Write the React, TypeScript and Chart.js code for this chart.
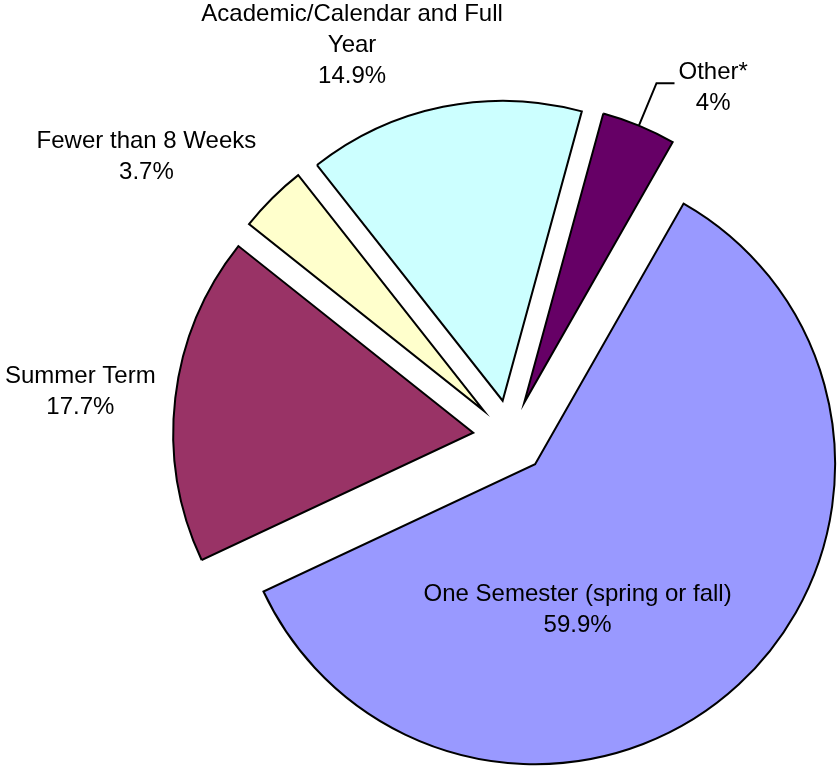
import React, { useEffect, useRef } from "react";
import { Chart, registerables } from "chart.js";

Chart.register(...registerables);

// ---- data ----
const categories = [
  "Other*",
  "One Semester (spring or fall)",
  "Summer Term",
  "Fewer than 8 Weeks",
  "Academic/Calendar and Full Year",
];
const labelLines = [
  ["Other*"],
  ["One Semester (spring or fall)"],
  ["Summer Term"],
  ["Fewer than 8 Weeks"],
  ["Academic/Calendar and Full", "Year"],
];
const values = [4, 59.9, 17.7, 3.7, 14.9];
const valueLabels = ["4%", "59.9%", "17.7%", "3.7%", "14.9%"];
const colors = ["#660066", "#9999FF", "#993366", "#FFFFCC", "#CCFFFF"];

// ---- label placement (polar, relative to each slice) ----
const labelAngleShift = [7.7, 21.4, -0.7, -7.5, -10.5];
const labelDistance = [1.347, 0.62, 1.44, 1.53, 1.407];
const hasLeader = [true, false, false, false, false];

const EXPLODE = 37;
const RADIUS = 300;
const FONT = "24px 'Liberation Sans', Arial, sans-serif";
const LINE_H = 31;

const explodePlugin = {
  id: "explode",
  beforeDatasetDraw(chart: any, args: any) {
    const ctx = chart.ctx;
    args.meta.data.forEach((arc: any) => {
      const mid = (arc.startAngle + arc.endAngle) / 2;
      ctx.save();
      ctx.translate(Math.cos(mid) * EXPLODE, Math.sin(mid) * EXPLODE);
      arc.draw(ctx);
      ctx.restore();
    });
    return false;
  },
};

const labelPlugin = {
  id: "sliceLabels",
  afterDatasetsDraw(chart: any) {
    const ctx = chart.ctx;
    const meta = chart.getDatasetMeta(0);
    ctx.save();
    ctx.font = FONT;
    ctx.fillStyle = "#000";
    ctx.textAlign = "center";
    ctx.textBaseline = "middle";
    meta.data.forEach((arc: any, i: number) => {
      const { x, y, startAngle, endAngle, outerRadius } = arc;
      const mid = (startAngle + endAngle) / 2;
      const a = mid + (labelAngleShift[i] * Math.PI) / 180;
      const d = labelDistance[i] * outerRadius;
      const cx = x + Math.cos(a) * d;
      const cy = y + Math.sin(a) * d;
      const lines = [...labelLines[i], valueLabels[i]];
      const top = cy - ((lines.length - 1) * LINE_H) / 2;
      lines.forEach((t, k) => ctx.fillText(t, cx, top + k * LINE_H));
      if (hasLeader[i]) {
        const w = Math.max(...lines.map((t) => ctx.measureText(t).width));
        const sx = x + Math.cos(mid) * (outerRadius + EXPLODE);
        const sy = y + Math.sin(mid) * (outerRadius + EXPLODE);
        const ex = cx - w / 2 - 4;
        const ey = top + 11;
        ctx.save();
        ctx.strokeStyle = "#000";
        ctx.lineWidth = 2;
        ctx.beginPath();
        ctx.moveTo(sx, sy);
        ctx.lineTo(ex - 18, ey);
        ctx.lineTo(ex, ey);
        ctx.stroke();
        ctx.restore();
      }
    });
    ctx.restore();
  },
};

export default function App() {
  const ref = useRef<HTMLCanvasElement | null>(null);
  useEffect(() => {
    if (!ref.current) return;
    const chart = new Chart(ref.current, {
      type: "pie",
      data: {
        labels: categories,
        datasets: [
          {
            data: values,
            backgroundColor: colors,
            borderColor: "#000",
            borderWidth: 2,
            borderJoinStyle: "miter",
            clip: false,
          } as any,
        ],
      },
      options: {
        animation: false,
        responsive: true,
        maintainAspectRatio: false,
        events: [],
        rotation: 15.3,
        radius: RADIUS,
        layout: { padding: { left: 180, top: 108, right: 0, bottom: 0 } },
        plugins: {
          legend: { display: false },
          tooltip: { enabled: false },
        },
      } as any,
      plugins: [explodePlugin, labelPlugin],
    });
    return () => chart.destroy();
  }, []);
  return (
    <div style={{ position: "absolute", left: 0, top: 0, width: 840, height: 766, background: "#fff" }}>
      <canvas ref={ref} />
    </div>
  );
}
